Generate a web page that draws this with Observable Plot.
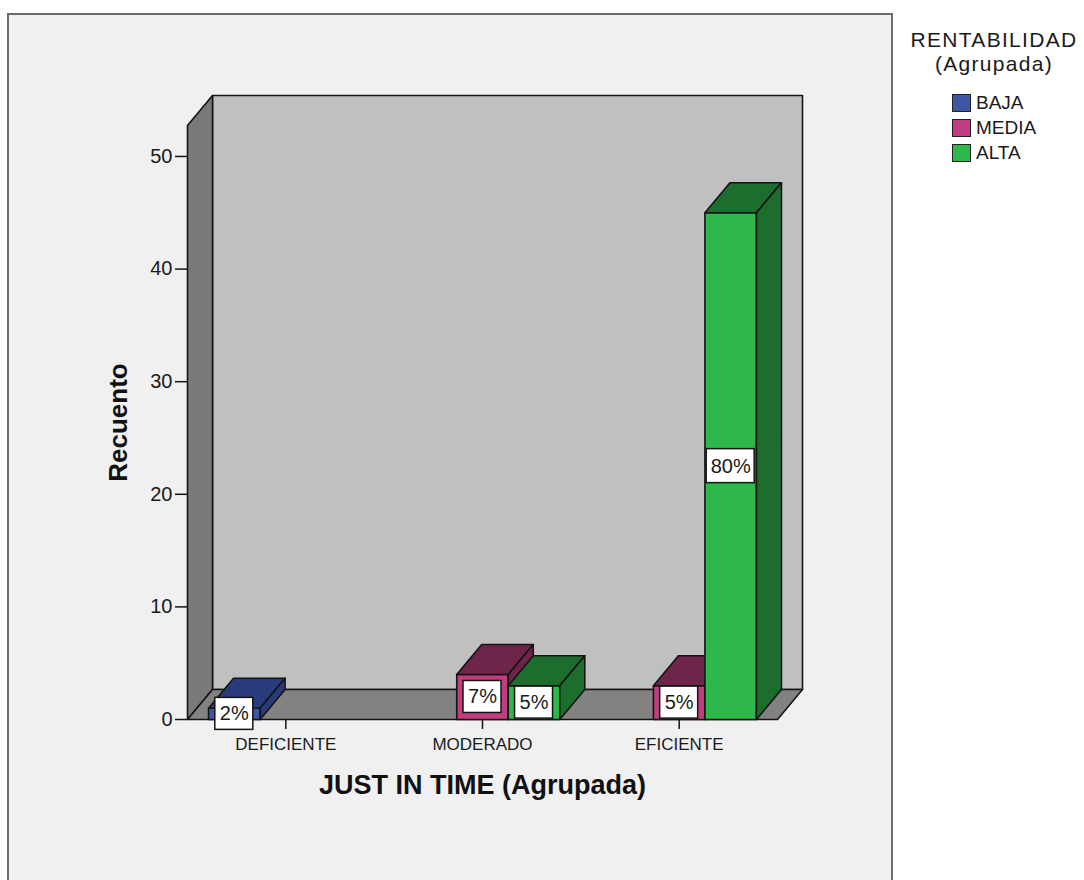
<!DOCTYPE html>
<html>
<head>
<meta charset="utf-8">
<script src="https://cdn.jsdelivr.net/npm/d3@7"></script>
<script src="https://cdn.jsdelivr.net/npm/@observablehq/plot@0.6"></script>
<style>
  body { margin: 0; background: #ffffff; font-family: "Liberation Sans", Arial, sans-serif; }
  #frame { position: absolute; left: 7px; top: 13px; width: 882px; height: 880px; background: #f0f0f0;
           border: 2px solid #6c6c6c; border-bottom: none; }
  #chart { position: absolute; left: 0; top: 0; }
  #legend { position: absolute; left: 896px; top: 28px; width: 196px; color: #1a1a1a; }
  #legend .title { text-align: center; font-size: 21px; line-height: 24px; letter-spacing: 1.3px; white-space: nowrap; }
  #legend .item { position: absolute; left: 56px; display: flex; align-items: center; font-size: 19px; }
  #legend .sw { width: 17px; height: 16px; border: 1.5px solid #222; margin-right: 5px; }
</style>
</head>
<body>
<div id="frame"></div>
<div id="chart"></div>
<div id="legend"></div>
<script>
// ---- data ----
const categories = ["DEFICIENTE", "MODERADO", "EFICIENTE"];
const seriesNames = ["BAJA", "MEDIA", "ALTA"];
const baja  = [1, 0, 0];
const media = [0, 4, 3];
const alta  = [0, 3, 45];
const yTicks = [0, 10, 20, 30, 40, 50];
const xTitle = "JUST IN TIME (Agrupada)";
const yTitle = "Recuento";
const legendTitle = ["RENTABILIDAD", "(Agrupada)"];

// ---- styles ----
const frontColors = ["#3d56a6", "#c23c80", "#2eb84b"];
const darkColors  = ["#283c7c", "#6f2449", "#1d6d2e"];
const wallBack = "#c0c0c0", wallLeft = "#797979", floorColor = "#828282";
const W = 1084, H = 880;
const mL = 187, mR = 307, mT = 125, mB = 161;
const yMax = 52.75;
const depthPx = [25, 30];
const groupFrac = 0.786;

const seriesValues = [baja, media, alta];
const total = d3.sum(seriesValues.flat());
const xDomain = [-0.5, categories.length - 0.5];
const DX = depthPx[0] * (xDomain[1] - xDomain[0]) / (W - mL - mR);
const DY = depthPx[1] * yMax / (H - mT - mB);

// polygons (closed paths) drawn via line marks
const polys = [];
let pid = 0;
function addPoly(pts, fill) {
  const id = pid++;
  [...pts, pts[0]].forEach(([x, y]) => polys.push({id, x, y, fill}));
}
const x0 = xDomain[0], x1 = xDomain[1];
addPoly([[x0 + DX, DY], [x1 + DX, DY], [x1 + DX, yMax + DY], [x0 + DX, yMax + DY]], wallBack);
addPoly([[x0, 0], [x0, yMax], [x0 + DX, yMax + DY], [x0 + DX, DY]], wallLeft);
addPoly([[x0, 0], [x1, 0], [x1 + DX, DY], [x0 + DX, DY]], floorColor);

const barW = groupFrac / seriesNames.length;
const labels = [];
categories.forEach((c, i) => {
  seriesNames.forEach((s, k) => {
    const v = seriesValues[k][i];
    if (!v) return;
    const a = i - groupFrac / 2 + k * barW, b = a + barW;
    addPoly([[a, 0], [b, 0], [b, v], [a, v]], frontColors[k]);
    addPoly([[a, v], [b, v], [b + DX, v + DY], [a + DX, v + DY]], darkColors[k]);
    addPoly([[b, 0], [b + DX, DY], [b + DX, v + DY], [b, v]], darkColors[k]);
    labels.push({x: (a + b) / 2, y: v / 2, text: Math.round(v / total * 100) + "%"});
  });
});
const shortLabels = labels.filter(d => d.text.length <= 2);
const longLabels = labels.filter(d => d.text.length > 2);

const plot = Plot.plot({
  width: W, height: H,
  marginLeft: mL, marginRight: mR, marginTop: mT, marginBottom: mB,
  x: {type: "linear", domain: xDomain},
  y: {type: "linear", domain: [0, yMax]},
  color: {type: "identity"},
  style: {background: "transparent", overflow: "visible", fontFamily: "'Liberation Sans', Arial, sans-serif", color: "#1a1a1a"},
  marks: [
    Plot.line(polys, {x: "x", y: "y", z: "id", fill: "fill", stroke: "#141414", strokeWidth: 1.6, strokeLinejoin: "round"}),
    Plot.rect(shortLabels, {x1: "x", x2: "x", y1: "y", y2: "y", insetLeft: -19, insetRight: -19, insetTop: -16, insetBottom: -16, fill: "white", stroke: "#141414", strokeWidth: 1.5}),
    Plot.rect(longLabels, {x1: "x", x2: "x", y1: "y", y2: "y", insetLeft: -24, insetRight: -24, insetTop: -17, insetBottom: -17, fill: "white", stroke: "#141414", strokeWidth: 1.5}),
    Plot.text(labels, {x: "x", y: "y", text: "text", fontSize: 20, fill: "#1a1a1a"}),
    Plot.axisY({ticks: yTicks, tickSize: 12, tickPadding: 3, fontSize: 20, label: null, stroke: "#141414", strokeWidth: 1.5}),
    Plot.axisX({ticks: d3.range(categories.length), tickFormat: i => categories[i], tickSize: 10, tickPadding: 8, fontSize: 17, label: null, stroke: "#141414", strokeWidth: 1.5}),
    Plot.text([xTitle], {frameAnchor: "bottom", textAnchor: "middle", dy: 74, fontSize: 27, fontWeight: "bold", fill: "#111"}),
    Plot.text([yTitle], {frameAnchor: "left", textAnchor: "middle", dx: -69, rotate: -90, fontSize: 26, fontWeight: "bold", fill: "#111"})
  ]
});
document.getElementById("chart").appendChild(plot);

// legend
const lg = document.getElementById("legend");
legendTitle.forEach(t => {
  const d = document.createElement("div");
  d.className = "title"; d.textContent = t; lg.appendChild(d);
});
seriesNames.forEach((s, k) => {
  const it = document.createElement("div");
  it.className = "item";
  it.style.top = (64 + k * 25) + "px";
  const sw = document.createElement("div");
  sw.className = "sw"; sw.style.background = frontColors[k];
  const tx = document.createElement("span"); tx.textContent = s;
  it.appendChild(sw); it.appendChild(tx); lg.appendChild(it);
});
</script>
</body>
</html>
